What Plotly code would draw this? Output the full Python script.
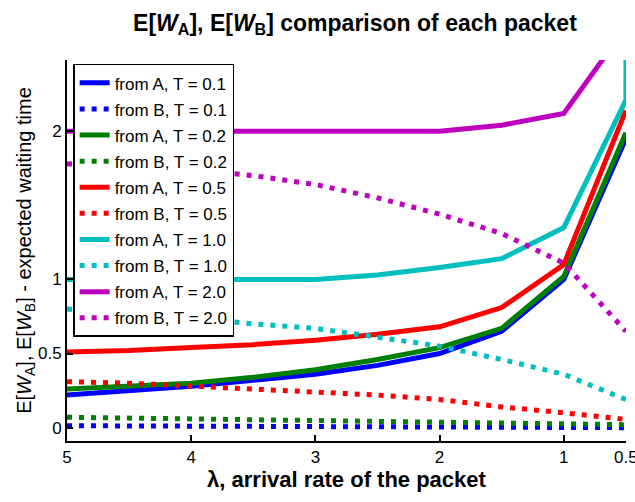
import plotly.graph_objects as go

x_vals = [5, 4.5, 4, 3.5, 3, 2.5, 2, 1.5, 1, 0.5]
x_cyan = [5, 4.5, 4, 3.5, 3, 2.5, 2, 1.5, 1, 0.5, 0.49]

a_t01 = [0.22, 0.25, 0.28, 0.32, 0.36, 0.42, 0.50, 0.65, 1.00, 1.95]
b_t01 = [0.013, 0.012, 0.011, 0.01, 0.009, 0.008, 0.006, 0.004, 0.002, 0.0]
a_t02 = [0.26, 0.28, 0.30, 0.34, 0.39, 0.46, 0.54, 0.67, 1.02, 1.99]
b_t02 = [0.07, 0.065, 0.06, 0.055, 0.05, 0.045, 0.04, 0.035, 0.03, 0.02]
a_t05 = [0.51, 0.52, 0.54, 0.56, 0.59, 0.63, 0.68, 0.81, 1.10, 2.14]
b_t05 = [0.31, 0.30, 0.28, 0.26, 0.24, 0.22, 0.19, 0.14, 0.10, 0.055]
a_t10 = [1.0, 1.0, 1.0, 1.0, 1.0, 1.03, 1.08, 1.14, 1.35, 2.21, 6.0]
b_t10 = [0.80, 0.77, 0.74, 0.70, 0.67, 0.61, 0.55, 0.46, 0.36, 0.19]
a_t20 = [2.0, 2.0, 2.0, 2.0, 2.0, 2.0, 2.0, 2.04, 2.12, 2.70]
b_t20 = [1.78, 1.76, 1.74, 1.70, 1.64, 1.55, 1.44, 1.31, 1.11, 0.65]

x_ticks = [5, 4, 3, 2, 1, 0.5]
x_tick_text = ["5", "4", "3", "2", "1", "0.5"]
y_ticks = [0, 0.5, 1, 2]
y_tick_text = ["0", "0.5", "1", "2"]

series = [
    ("from A, T = 0.1", x_vals, a_t01, "#0000FF", "solid"),
    ("from B, T = 0.1", x_vals, b_t01, "#0000FF", "dot"),
    ("from A, T = 0.2", x_vals, a_t02, "#008000", "solid"),
    ("from B, T = 0.2", x_vals, b_t02, "#008000", "dot"),
    ("from A, T = 0.5", x_vals, a_t05, "#FF0000", "solid"),
    ("from B, T = 0.5", x_vals, b_t05, "#FF0000", "dot"),
    ("from A, T = 1.0", x_cyan, a_t10, "#00BFBF", "solid"),
    ("from B, T = 1.0", x_vals, b_t10, "#00BFBF", "dot"),
    ("from A, T = 2.0", x_vals, a_t20, "#BF00BF", "solid"),
    ("from B, T = 2.0", x_vals, b_t20, "#BF00BF", "dot"),
]

FONT = "Liberation Sans, Arial, sans-serif"

fig = go.Figure()
for i, (name, xs, ys, color, style) in enumerate(series):
    fig.add_trace(go.Scatter(
        x=xs, y=ys, mode="lines", name=name,
        legendgroup="g%d" % i,
        line=dict(color=color, width=5, dash=("solid" if style == "solid" else "5px,7px")),
    ))

fig.update_layout(
    width=635, height=502,
    margin=dict(l=67, r=9, t=60, b=61),
    paper_bgcolor="white", plot_bgcolor="white",
    font=dict(family=FONT, size=16, color="black"),
    title=dict(
        text="<b>E[<i>W</i><sub>A</sub>], E[<i>W</i><sub>B</sub>] comparison of each packet</b>",
        x=0.559, xanchor="center", y=0.955, yanchor="middle",
        font=dict(family=FONT, size=23, color="black"),
    ),
    showlegend=True,
    legend=dict(
        x=0.011, y=0.99, xanchor="left", yanchor="top",
        bgcolor="white", bordercolor="black", borderwidth=1.5,
        font=dict(family=FONT, size=17, color="black"),
        tracegroupgap=1, itemwidth=30,
    ),
    xaxis=dict(
        range=[5, 0.499], tickvals=x_ticks, ticktext=x_tick_text,
        showgrid=False, zeroline=False, showline=True, linecolor="black", linewidth=2,
        ticks="inside", ticklen=6, tickcolor="black", tickwidth=1.5, mirror=False,
        tickfont=dict(family=FONT, size=17), ticklabeloverflow="allow", automargin=False,
        title=dict(text="<b>λ, arrival rate of the packet</b>", font=dict(family=FONT, size=22), standoff=4),
    ),
    yaxis=dict(
        range=[-0.09, 2.48], tickvals=y_ticks, ticktext=y_tick_text,
        showgrid=False, zeroline=False, showline=True, linecolor="black", linewidth=2,
        ticks="inside", ticklen=6, tickcolor="black", tickwidth=1.5, mirror=False,
        tickfont=dict(family=FONT, size=17), automargin=False,
        title=dict(text="E[<i>W</i><sub>A</sub>], E[<i>W</i><sub>B</sub>] - expected waiting time",
                   font=dict(family=FONT, size=20), standoff=1),
    ),
)

fig.write_html("out.html")
